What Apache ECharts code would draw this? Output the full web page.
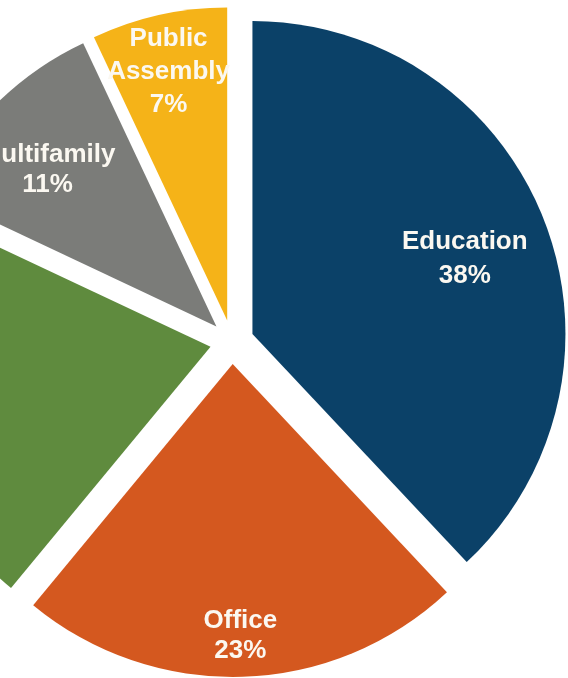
<!DOCTYPE html>
<html>
<head>
<meta charset="utf-8">
<script src="https://cdn.jsdelivr.net/npm/echarts@6/dist/echarts.min.js"></script>
<style>
  html, body { margin: 0; padding: 0; background: #ffffff; }
  #chart { width: 568px; height: 678px; }
</style>
</head>
<body>
<div id="chart"></div>
<script>
// Building types and their share of the total (percent)
const categories = ['Education', 'Office', 'Other', 'Multifamily', 'Public Assembly'];
const shares = [38, 23, 21, 11, 7];
// Text shown inside each slice (first line)
const sliceTitles = ['Education', 'Office', 'Other', 'Multifamily', 'Public\nAssembly'];
const sliceColors = ['#0b4168', '#d4581f', '#5f8b3e', '#7b7c79', '#f5b318'];
// How far out along each slice its label sits, as a fraction of the radius
const labelReach = [0.72, 0.87, 0.93, 0.74, 0.82];
// Small hand nudges of each label, in pixels, and its line spacing
const labelNudge = [[0, 9], [-1, -3], [0, 0], [-3, 9], [-2, 5]];
const labelLineHeight = [34, 30, 30, 30, 33];

const CENTER = [232, 342];
const RADIUS = 313;
const EXPLODE = 22;

// The coloured, exploded slices
const slicesSeries = {
  type: 'pie',
  center: CENTER,
  radius: [0, RADIUS],
  startAngle: 90,
  clockwise: true,
  selectedMode: 'multiple',
  selectedOffset: EXPLODE,
  label: { show: false },
  labelLine: { show: false },
  emphasis: { disabled: true },
  itemStyle: { borderWidth: 0 },
  data: categories.map((name, i) => ({
    name: name,
    value: shares[i],
    selected: true,
    itemStyle: { color: sliceColors[i] },
    select: { itemStyle: { color: sliceColors[i] } }
  }))
};

// 'inside' labels sit halfway across a ring, so each label rides on an
// invisible ring whose middle is at the wanted distance from the centre.
const labelSeries = categories.map((_, k) => ({
  type: 'pie',
  silent: true,
  center: [CENTER[0] + labelNudge[k][0], CENTER[1] + labelNudge[k][1]],
  radius: [(2 * labelReach[k] - 1) * RADIUS, RADIUS],
  startAngle: 90,
  clockwise: true,
  selectedMode: 'multiple',
  selectedOffset: EXPLODE,
  avoidLabelOverlap: false,
  labelLine: { show: false },
  emphasis: { disabled: true },
  itemStyle: { color: 'rgba(0,0,0,0)', borderWidth: 0 },
  label: {
    show: false,
    position: 'inside',
    color: '#fbf8f1',
    fontFamily: 'Liberation Sans, Arial, sans-serif',
    fontWeight: 'bold',
    fontSize: 26,
    lineHeight: labelLineHeight[k],
    align: 'center',
    formatter: p => sliceTitles[p.dataIndex] + '\n' + p.value + '%'
  },
  data: categories.map((name, i) => ({
    name: name,
    value: shares[i],
    selected: true,
    itemStyle: { color: 'rgba(0,0,0,0)' },
    select: { itemStyle: { color: 'rgba(0,0,0,0)' } },
    label: { show: i === k }
  }))
}));

const chart = echarts.init(document.getElementById('chart'), null, { renderer: 'canvas' });

chart.setOption({
  backgroundColor: '#ffffff',
  animation: false,
  series: [slicesSeries].concat(labelSeries)
});
</script>
</body>
</html>
